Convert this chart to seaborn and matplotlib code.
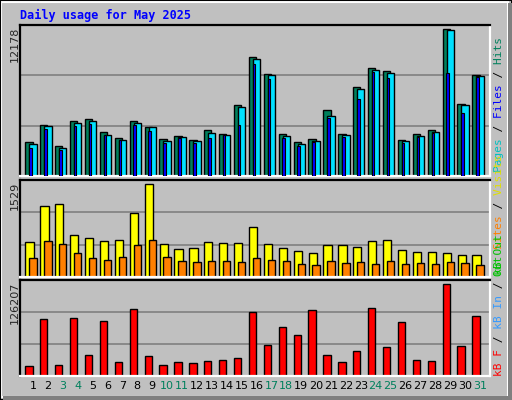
import numpy as np
import matplotlib
matplotlib.use('Agg')
import matplotlib.pyplot as plt
import seaborn as sns
import pandas as pd
from matplotlib.patches import Rectangle

# values (scaled from pixel heights)
days = list(range(1, 32))
weekend = [3, 4, 10, 11, 17, 18, 24, 25, 31]
hits_px = [34, 51, 30, 55, 57, 44, 38, 55, 49, 37, 40, 36, 46, 42, 71,
           119, 102, 42, 34, 37, 66, 42, 89, 108, 105, 36, 42, 46, 147, 72, 101]
files_px = [32, 50, 28, 53, 55, 41, 36, 53, 49, 35, 39, 35, 43, 41, 69,
            117, 101, 40, 32, 35, 60, 41, 87, 106, 103, 35, 40, 44, 146, 71, 100]
pages_px = [28, 47, 26, 50, 52, 41, 36, 51, 45, 33, 38, 33, 38, 41, 51,
            112, 97, 38, 30, 34, 58, 39, 77, 104, 98, 33, 39, 43, 103, 63, 99]
visits_px = [35, 70, 72, 42, 39, 36, 37, 63, 92, 33, 28, 29, 35, 34, 34,
             49, 33, 29, 26, 24, 32, 32, 30, 36, 37, 27, 25, 25, 24, 22, 22]
sites_px = [19, 36, 33, 24, 19, 17, 20, 32, 37, 20, 16, 15, 16, 16, 15,
            19, 17, 16, 13, 12, 16, 14, 15, 13, 16, 13, 14, 13, 15, 14, 12]
kb_px = [10, 57, 11, 58, 21, 55, 14, 67, 20, 11, 14, 13, 15, 16, 18,
         64, 31, 49, 41, 66, 21, 14, 25, 68, 29, 54, 16, 15, 92, 30, 60]

max_hits, max_visits, max_kb = 12178, 1529, 126207
hits = np.array(hits_px) / 151 * max_hits
files = np.array(files_px) / 151 * max_hits
pages = np.array(pages_px) / 151 * max_hits
visits = np.array(visits_px) / 96 * max_visits
sites = np.array(sites_px) / 96 * max_visits
kbytes = np.array(kb_px) / 96 * max_kb

sns.set_style('white')
bg = '#C0C0C0'
fig = plt.figure(figsize=(5.12, 4.0), dpi=100, facecolor=bg)
W, H = 512, 400
mono = 'DejaVu Sans Mono'
x = np.arange(31)


def panel(top, bottom, ymax):
    ax = fig.add_axes([20 / W, 1 - bottom / H, 470 / W, (bottom - top) / H])
    ax.set_facecolor(bg)
    ax.set_xlim(-0.87, 30.67)
    ax.set_ylim(0, ymax)
    for g in (ymax / 3, 2 * ymax / 3):
        ax.axhline(g, color='#808080', lw=1.2, zorder=0)
    ax.set_xticks([])
    ax.set_yticks([])
    ax.spines['top'].set_color('black')
    ax.spines['left'].set_color('black')
    ax.spines['right'].set_color('white')
    ax.spines['bottom'].set_color('white')
    for s in ax.spines.values():
        s.set_linewidth(1.6)
        s.set_visible(True)
    return ax


kw = dict(edgecolor='black', linewidth=1, zorder=2)

ax1 = panel(25, 176, max_hits)
ax1.bar(x - 0.27, hits, width=0.49, color='#00805C', **kw)
ax1.bar(x, files, width=0.49, color='#00E0FF', **kw)
ax1.bar(x - 0.17, pages, width=0.17, color='#0000FF', edgecolor='black',
        linewidth=0.8, zorder=3)

ax2 = panel(180, 277, max_visits)
ax2.bar(x - 0.23, visits, width=0.55, color='#FFFF00', **kw)
ax2.bar(x, sites, width=0.49, color='#FF8000', **kw)

ax3 = panel(280, 376, max_kb)
df = pd.DataFrame({'day': x - 0.27, 'kb': kbytes})
sns.barplot(data=df, x='day', y='kb', native_scale=True, width=0.49,
            color='#FF0000', saturation=1, ax=ax3, **kw)
ax3.set_xlim(-0.87, 30.67)
ax3.set_xlabel('')
ax3.set_ylabel('')
ax3.set_xticks([])
ax3.set_yticks([])

# day labels
for i, d in enumerate(days):
    xp = (33 + 14.9 * i) / W
    fig.text(xp, 1 - 386 / H, str(d), ha='center', va='center', fontsize=8,
             color='#00805C' if d in weekend else 'black')

# title
fig.text(20 / W, 1 - 15 / H, 'Daily usage for May 2025', fontsize=8.5,
         family=mono, weight='bold', color='#0000FF', va='center')

# left max labels
for ytop, lab in ((25, str(max_hits)), (180, str(max_visits)), (280, str(max_kb))):
    fig.text(15 / W, 1 - (ytop + 2) / H, lab, rotation=90, ha='center',
             va='top', fontsize=8)


# right legend labels: each coloured piece is the full string with the
# other characters blanked, so the monospace pieces line up
def right_label(ybottom, parts):
    full = ''.join(t for t, _ in parts)
    pos = 0
    for txt, col in parts:
        s = ' ' * pos + txt + ' ' * (len(full) - pos - len(txt))
        pos += len(txt)
        fig.text(499 / W, 1 - ybottom / H, s, rotation=90, ha='center',
                 va='bottom', fontsize=8, family=mono, color=col)


right_label(172, [('Pages', '#00C0C0'), (' / ', 'black'), ('Files', '#0000FF'),
                  (' / ', 'black'), ('Hits', '#00805C')])
right_label(276, [('Out', '#00C000'), (' Sites', '#FF8000'), (' / ', 'black'),
                  ('Visits', '#E0E000')])
right_label(376, [('kB F', '#FF0000'), (' / ', 'black'), ('kB In', '#3399FF'),
                  (' / ', 'black'), ('kB Out', '#00C000')])

# outer frame
fig.patches.append(Rectangle((1 / W, 3 / H), 507 / W, 395 / H, transform=fig.transFigure,
                             fill=False, edgecolor='white', lw=1.5))
fig.patches.append(Rectangle((0, 0), 1, 1, transform=fig.transFigure,
                             fill=False, edgecolor='black', lw=1.5))
fig.patches.append(Rectangle((3 / W, 0), 509 / W, 4 / H, transform=fig.transFigure,
                             color='#808080', lw=0))
fig.patches.append(Rectangle((508 / W, 0), 4 / W, 397 / H, transform=fig.transFigure,
                             color='#808080', lw=0))

fig.savefig('out.png', dpi=100, facecolor=bg)
